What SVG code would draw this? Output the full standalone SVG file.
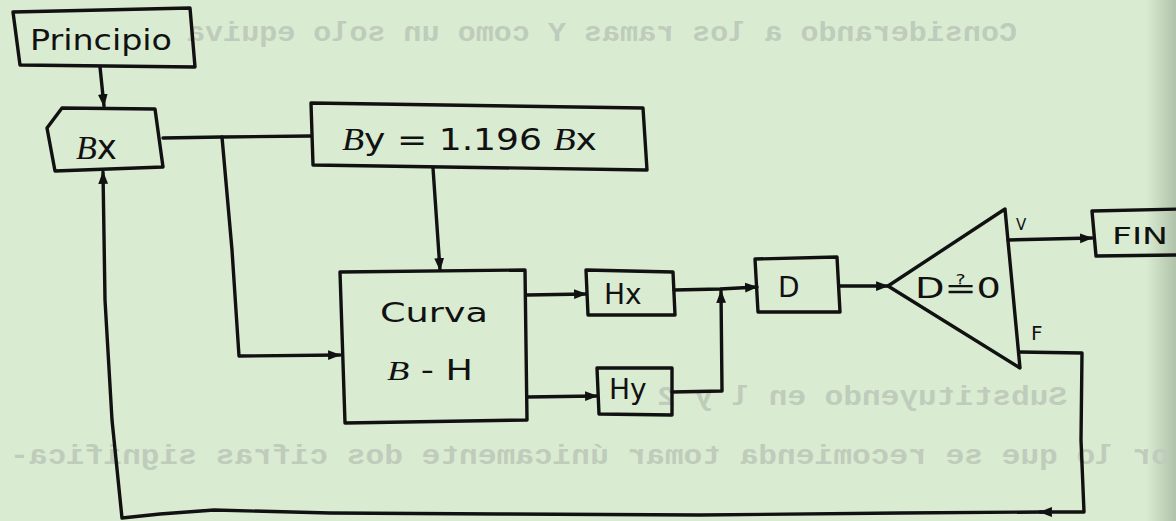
<svg xmlns="http://www.w3.org/2000/svg" width="1176" height="521" viewBox="0 0 1176 521">
  <defs>
    <linearGradient id="edge" x1="0" y1="0" x2="1" y2="0">
      <stop offset="0" stop-color="#9fb39a" stop-opacity="0"/>
      <stop offset="1" stop-color="#9fb39a" stop-opacity="0.7"/>
    </linearGradient>
    <marker id="arr" viewBox="0 0 12 10" refX="11" refY="5" markerWidth="13" markerHeight="11" markerUnits="userSpaceOnUse" orient="auto">
      <path d="M0,0.5 L12,5 L0,9.5 z" fill="#111"/>
    </marker>
  </defs>
  <style>
    .ink { fill: none; stroke: #111; stroke-width: 3.4; stroke-linejoin: round; stroke-linecap: round; }
    .lbl { font-family: "DejaVu Sans", "Liberation Sans", sans-serif; fill: #111; }
    .ghost { font-family: "Liberation Mono", "DejaVu Sans Mono", monospace; font-weight: bold; fill: #bfcbbb; font-size: 27px; }
  </style>

  <!-- paper -->
  <rect width="1176" height="521" fill="#d9ebd1"/>
  <rect x="1146" y="0" width="30" height="521" fill="url(#edge)"/>

  <!-- typed text showing through from the back of the sheet (mirrored) -->
  <g id="show-through" transform="scale(-1,1)">
    <text class="ghost" x="-1017" y="41" textLength="830" lengthAdjust="spacingAndGlyphs">Considerando a los ramas Y como un solo equiva</text>
    <text class="ghost" x="-1067" y="405" textLength="410" lengthAdjust="spacingAndGlyphs">Substituyendo en l y 2</text>
    <text class="ghost" x="-1170" y="464" textLength="1160" lengthAdjust="spacingAndGlyphs">or lo que se recomienda tomar únicamente dos cifras significa-</text>
  </g>

  <!-- connectors -->
  <g id="connectors">
    <path class="ink" d="M100,67 L104,106" marker-end="url(#arr)"/>
    <path class="ink" d="M163,138 L222,137 L311,136"/>
    <path class="ink" d="M222,137 L232,250 L239,356 L340,355" marker-end="url(#arr)"/>
    <path class="ink" d="M433,168 L440,270" marker-end="url(#arr)"/>
    <path class="ink" d="M527,295 L586,294" marker-end="url(#arr)"/>
    <path class="ink" d="M527,397 L597,396" marker-end="url(#arr)"/>
    <path class="ink" d="M674,290 L720,289 L757,287" marker-end="url(#arr)"/>
    <path class="ink" d="M672,392 L722,391 L721,291" marker-end="url(#arr)"/>
    <path class="ink" d="M840,286 L888,286" marker-end="url(#arr)"/>
    <path class="ink" d="M1008,240 L1092,238" marker-end="url(#arr)"/>
    <path class="ink" d="M1019,352 L1082,353 L1081,440 L1084,512 L1040,512" marker-end="url(#arr)"/>
    <path class="ink" d="M1042,512 L900,513 L700,515 L500,514 L330,513 L214,510 L160,514 L122,518 L112,420 L105,300 L103,172" marker-end="url(#arr)"/>
  </g>

  <!-- nodes -->
  <g id="principio">
    <path class="ink" d="M13,12 L190,8 L195,67 L20,65 Z"/>
    <text class="lbl" x="30" y="50" font-size="28" textLength="142" lengthAdjust="spacingAndGlyphs">Principio</text>
  </g>

  <g id="bx">
    <path class="ink" d="M62,108 L155,109 L163,167 L55,171 L47,128 Z"/>
    <text class="lbl" x="76" y="159" font-size="34"><tspan font-family="Liberation Serif" font-style="italic">B</tspan>x</text>
  </g>

  <g id="by">
    <path class="ink" d="M311,103 L643,108 L647,170 L313,165 Z"/>
    <text class="lbl" x="342" y="150" font-size="31" textLength="255" lengthAdjust="spacingAndGlyphs"><tspan font-family="Liberation Serif" font-style="italic">B</tspan>y = 1.196 <tspan font-family="Liberation Serif" font-style="italic">B</tspan>x</text>
  </g>

  <g id="curva">
    <path class="ink" d="M340,272 L525,270 L527,420 L345,423 Z"/>
    <text class="lbl" x="380" y="322" font-size="26" textLength="108" lengthAdjust="spacingAndGlyphs">Curva</text>
    <text class="lbl" x="387" y="380" font-size="28" textLength="86" lengthAdjust="spacingAndGlyphs"><tspan font-family="Liberation Serif" font-style="italic">B</tspan> - H</text>
  </g>

  <g id="hx">
    <path class="ink" d="M586,270 L673,272 L675,315 L588,315 Z"/>
    <text class="lbl" x="604" y="304" font-size="28">Hx</text>
  </g>

  <g id="hy">
    <path class="ink" d="M597,368 L672,368 L672,415 L599,414 Z"/>
    <text class="lbl" x="609" y="399" font-size="28">Hy</text>
  </g>

  <g id="d">
    <path class="ink" d="M755,259 L837,257 L840,312 L758,312 Z"/>
    <text class="lbl" x="778" y="297" font-size="28">D</text>
  </g>

  <g id="decision">
    <path class="ink" d="M888,286 L1005,209 L1020,368 Z"/>
    <text class="lbl" x="915" y="298" font-size="28" textLength="86" lengthAdjust="spacingAndGlyphs">D≟0</text>
    <text class="lbl" x="1016" y="230" font-size="15">V</text>
    <text class="lbl" x="1031" y="340" font-size="20">F</text>
  </g>

  <g id="fin">
    <path class="ink" d="M1092,211 L1180,209 L1180,255 L1096,256 Z"/>
    <text class="lbl" x="1112" y="244" font-size="23" textLength="56" lengthAdjust="spacingAndGlyphs">FIN</text>
  </g>
</svg>
